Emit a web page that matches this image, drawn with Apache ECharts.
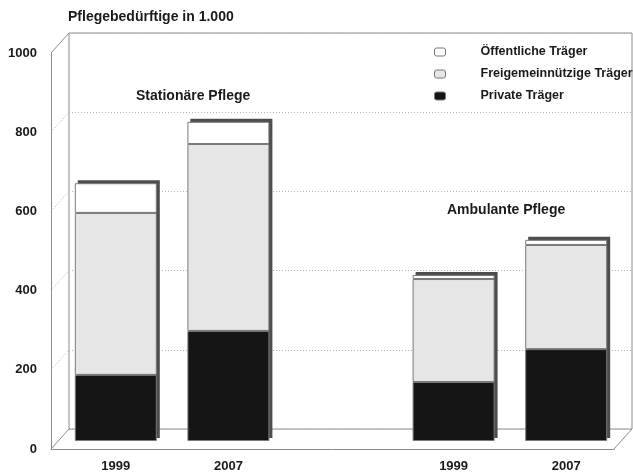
<!DOCTYPE html>
<html>
<head>
<meta charset="utf-8">
<script src="https://cdn.jsdelivr.net/npm/echarts@6/dist/echarts.min.js"></script>
<style>
  html, body { margin: 0; padding: 0; background: #fff; }
  #chart { width: 633px; height: 474px; }
</style>
</head>
<body>
<div id="chart"></div>
<script>
// Pflegebedürftige nach Träger, in 1.000 (stationär / ambulant)
const years = ['1999', '2007', '', '1999', '2007'];
const privat = [167, 278, '-', 149, 232];
const freigemeinnuetzig = [409, 472, '-', 260, 263];
const oeffentlich = [75, 56, '-', 10, 13];
const valueTicks = [0, 200, 400, 600, 800, 1000];
const seriesNames = ['Private Träger', 'Freigemeinnützige Träger', 'Öffentliche Träger'];

const FONT = '"Liberation Sans", Arial, sans-serif';
const frameColor = '#8c8c8c';
const BAR_W = 82;
const DEPTH = 3;

// column totals, used for the shaded top and side of each column
const totals = [];
years.forEach((y, i) => {
  if (typeof privat[i] === 'number') {
    totals.push([i, privat[i] + freigemeinnuetzig[i] + oeffentlich[i]]);
  }
});

const chart = echarts.init(document.getElementById('chart'), null, { renderer: 'canvas' });

const makeSeries = (name, values, fill) => ({
  type: 'bar',
  name: name,
  stack: 'traeger',
  xAxisIndex: 0,
  yAxisIndex: 0,
  barWidth: BAR_W,
  z: 3,
  data: values,
  itemStyle: { color: fill, borderColor: '#7a7a7a', borderWidth: 1 },
  emphasis: { disabled: true },
  animation: false
});

const option = {
  animation: false,
  backgroundColor: '#fff',
  textStyle: { fontFamily: FONT },
  grid: [
    // plane where the columns stand
    { left: 59.5, top: 45, width: 563, height: 396 },
    // back wall
    { left: 69, top: 33, width: 563, height: 396, show: true, borderColor: frameColor, borderWidth: 1, backgroundColor: 'transparent' },
    // front edge with the value scale
    { left: 51, top: 53, width: 563, height: 396 }
  ],
  xAxis: [
    {
      type: 'category', gridIndex: 0, data: years,
      axisLine: { show: false }, axisTick: { show: false },
      axisLabel: { margin: 19, fontSize: 13, fontWeight: 'bold', color: '#1a1a1a', fontFamily: FONT }
    },
    { type: 'value', gridIndex: 1, min: 0, max: 1, show: false },
    {
      type: 'value', gridIndex: 2, min: 0, max: 1,
      axisLine: { show: true, lineStyle: { color: frameColor, width: 1 } },
      axisTick: { show: false }, axisLabel: { show: false }, splitLine: { show: false }
    }
  ],
  yAxis: [
    { type: 'value', gridIndex: 0, min: 0, max: 1000, show: false },
    {
      type: 'value', gridIndex: 1, min: 0, max: 1000, interval: 200,
      axisLine: { show: false }, axisTick: { show: false }, axisLabel: { show: false },
      splitLine: { show: true, lineStyle: { color: '#b0b0b0', type: [1, 2], width: 1 } }
    },
    {
      type: 'value', gridIndex: 2, min: 0, max: 1000, interval: 200,
      axisLine: { show: true, lineStyle: { color: frameColor, width: 1 } },
      axisTick: { show: false }, splitLine: { show: false },
      axisLabel: {
        margin: 14, fontSize: 13, fontWeight: 'bold', color: '#1a1a1a', fontFamily: FONT,
        formatter: (v) => String(v)
      }
    }
  ],
  legend: {
    orient: 'vertical',
    left: 429,
    top: 40,
    itemWidth: 11,
    itemHeight: 8,
    itemGap: 8,
    icon: 'roundRect',
    selectedMode: false,
    data: ['Öffentliche Träger', 'Freigemeinnützige Träger', 'Private Träger'],
    itemStyle: { borderColor: '#777', borderWidth: 1 },
    textStyle: { fontSize: 12.5, fontWeight: 'bold', color: '#1a1a1a', fontFamily: FONT, lineHeight: 14, padding: [0, 0, 0, 30] }
  },
  series: [
    {
      // dark top and right side of every column
      type: 'custom',
      xAxisIndex: 0,
      yAxisIndex: 0,
      z: 2,
      silent: true,
      data: totals,
      encode: { x: 0, y: 1 },
      renderItem: (params, api) => {
        const top = api.coord([api.value(0), api.value(1)]);
        const base = api.coord([api.value(0), 0]);
        return {
          type: 'rect',
          shape: { x: top[0] - BAR_W / 2 + DEPTH, y: top[1] - DEPTH, width: BAR_W, height: base[1] - top[1] },
          style: { fill: '#4d4d4d' }
        };
      }
    },
    makeSeries(seriesNames[0], privat, '#151515'),
    makeSeries(seriesNames[1], freigemeinnuetzig, '#e6e6e6'),
    makeSeries(seriesNames[2], oeffentlich, '#ffffff')
  ]
};

chart.setOption(option);

// Side wall and floor edges, joined from the front scale to the back wall
const frame = [];
valueTicks.forEach((v) => {
  const f = chart.convertToPixel({ xAxisIndex: 2, yAxisIndex: 2 }, [0, v]);
  const b = chart.convertToPixel({ xAxisIndex: 1, yAxisIndex: 1 }, [0, v]);
  const edge = v === valueTicks[0] || v === valueTicks[valueTicks.length - 1];
  frame.push({
    type: 'line', silent: true, z: 1,
    shape: { x1: f[0], y1: f[1], x2: b[0], y2: b[1] },
    style: edge
      ? { stroke: frameColor, lineWidth: 1 }
      : { stroke: '#b0b0b0', lineWidth: 1, lineDash: [1, 2] }
  });
});
const fr = chart.convertToPixel({ xAxisIndex: 2, yAxisIndex: 2 }, [1, 0]);
const br = chart.convertToPixel({ xAxisIndex: 1, yAxisIndex: 1 }, [1, 0]);
frame.push({
  type: 'line', silent: true, z: 1,
  shape: { x1: fr[0], y1: fr[1], x2: br[0], y2: br[1] },
  style: { stroke: frameColor, lineWidth: 1 }
});

const textItem = (text, x, y) => ({
  type: 'text', silent: true, z: 10, x: x, y: y,
  style: { text: text, fill: '#1a1a1a', font: 'bold 14px ' + FONT, textAlign: 'left', textVerticalAlign: 'middle' }
});

chart.setOption({
  graphic: frame.concat([
    textItem('Pflegebedürftige in 1.000', 68, 17),
    textItem('Stationäre Pflege', 136, 96),
    textItem('Ambulante Pflege', 447, 210)
  ])
});
</script>
</body>
</html>
